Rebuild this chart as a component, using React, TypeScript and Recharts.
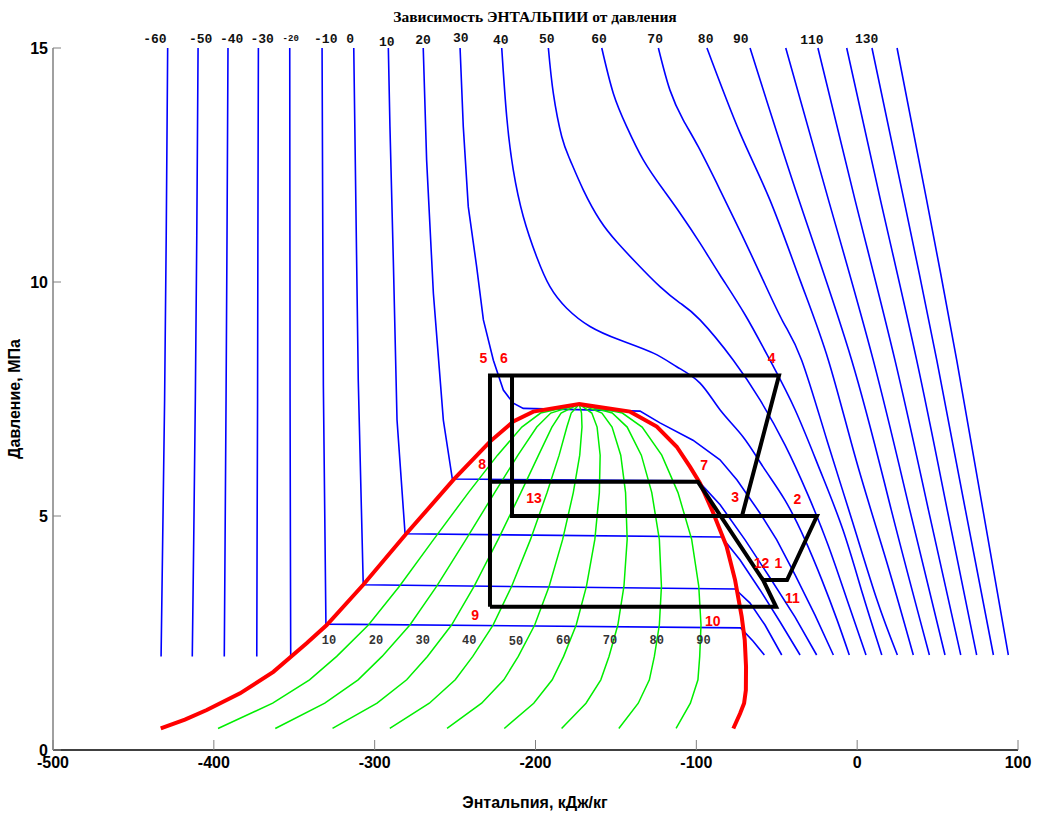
import React from 'react';
import { LineChart, Line, XAxis, YAxis, ReferenceDot } from 'recharts';

// isotherms: [enthalpy kJ/kg, pressure MPa]
const ISO_M60 = [[-428.7, 15], [-429.6, 11], [-430.6, 7.5], [-431.8, 4.5], [-432.8, 2.0]];
const ISO_M50 = [[-409.8, 15], [-410.6, 11], [-411.5, 7.5], [-412.5, 4.5], [-413.4, 2.0]];
const ISO_M40 = [[-391.2, 15], [-391.8, 11], [-392.4, 7.5], [-393.0, 4.5], [-393.5, 2.0]];
const ISO_M30 = [[-372.3, 15], [-372.6, 11], [-372.8, 7.5], [-373.1, 4.5], [-373.3, 2.0]];
const ISO_M20 = [[-352.8, 15], [-352.7, 11], [-352.6, 7.5], [-352.4, 4.5], [-352.2, 2.0]];
const ISO_M10 = [[-332.7, 15], [-331.9, 7.8], [-330.3, 2.69], [-72.5, 2.61], [-64.8, 2.33], [-57.7, 2.03]];
const ISO_0 = [[-313.0, 15], [-310.2, 7.9], [-307.1, 3.53], [-75.9, 3.44], [-66.6, 3.14], [-57.3, 2.67], [-46.9, 2.03]];
const ISO_10 = [[-291.5, 15], [-290.5, 13.32], [-288.4, 10.47], [-286.1, 7.05], [-281.1, 4.62], [-84.2, 4.55], [-72.8, 4.06], [-60.4, 3.42], [-48.0, 2.74], [-35.5, 2.03]];
const ISO_20 = [[-269.8, 15], [-267.7, 12.61], [-263.5, 9.76], [-257.3, 7.05], [-251.7, 5.79], [-98.9, 5.75], [-85.2, 5.24], [-69.7, 4.49], [-54.2, 3.68], [-38.6, 2.84], [-25.2, 2.03]];
const ISO_30 = [[-246.9, 15], [-244.9, 13.32], [-241.8, 11.61], [-236.6, 10.33], [-232.4, 9.19], [-226.2, 8.33], [-220.0, 7.69], [-213.8, 7.41], [-207.6, 7.3], [-135.0, 7.24], [-122.6, 6.99], [-102.1, 6.62], [-85.3, 6.2], [-74.7, 5.77], [-60.4, 5.06], [-50.0, 4.49], [-38.6, 3.74], [-26.2, 2.88], [-14.8, 2.03]];
const ISO_40 = [[-221.0, 15], [-217.9, 13.53], [-213.8, 12.39], [-207.6, 11.4], [-199.3, 10.54], [-191.0, 9.9], [-180.6, 9.44], [-166.1, 9.05], [-147.5, 8.76], [-126.7, 8.48], [-112.2, 8.19], [-97.7, 7.84], [-85.3, 7.27], [-70.9, 6.69], [-58.5, 6.05], [-44.9, 5.34], [-32.4, 4.49], [-21.9, 3.63], [-12.5, 2.78], [-4.9, 2.03]];
const ISO_50 = [[-192.0, 15], [-188.9, 14.03], [-183.7, 13.11], [-178.5, 12.61], [-170.3, 11.97], [-159.9, 11.32], [-149.5, 10.86], [-137.1, 10.4], [-122.6, 9.9], [-110.1, 9.55], [-97.7, 9.19], [-77.0, 8.33], [-60.4, 7.48], [-44.9, 6.52], [-30.6, 5.45], [-18.1, 4.38], [-6.3, 3.21], [5.5, 2.03]];
const ISO_60 = [[-158.8, 15], [-151.6, 14.03], [-143.3, 13.32], [-133.0, 12.61], [-120.5, 11.97], [-110.1, 11.47], [-97.7, 10.83], [-85.3, 10.15], [-69.7, 9.3], [-54.2, 8.33], [-38.6, 7.27], [-23.1, 5.98], [-8.8, 4.7], [3.6, 3.31], [15.3, 2.03]];
const ISO_70 = [[-123.6, 15], [-116.4, 14.1], [-108.1, 13.46], [-98.8, 12.89], [-85.3, 11.97], [-71.6, 11.0], [-58.5, 10.04], [-46.1, 9.15], [-34.5, 8.33], [-18.8, 6.62], [-3.2, 4.91], [12.3, 3.21], [25.0, 2.03]];
const ISO_80 = [[-93.4, 15], [-72.8, 13.18], [-54.2, 11.75], [-35.5, 10.04], [-17.9, 8.33], [-0.7, 6.2], [18.0, 4.06], [34.9, 2.03]];
const ISO_90 = [[-66.6, 15], [-36.2, 11.75], [-3.4, 8.33], [21.2, 5.13], [44.9, 2.03]];
const ISO_100 = [[-44.4, 15], [-17.8, 11.75], [10.0, 8.33], [32.7, 5.13], [54.6, 2.03]];
const ISO_110 = [[-24.4, 15], [-1.3, 11.75], [23.5, 8.33], [44.3, 5.13], [64.4, 2.03]];
const ISO_120 = [[-6.5, 15], [14.5, 11.75], [37.0, 8.33], [56.0, 5.13], [74.3, 2.03]];
const ISO_130 = [[9.2, 15], [29.1, 11.75], [49.5, 8.33], [67.3, 5.13], [84.7, 2.03]];
const ISO_140 = [[24.8, 15], [43.2, 11.75], [61.9, 8.33], [78.2, 5.13], [94.0, 2.03]];

// lines with a flat two-phase part keep sharp corners
const ISO_SHARP = [ISO_M60, ISO_M50, ISO_M40, ISO_M30, ISO_M20, ISO_M10, ISO_0, ISO_10, ISO_20, ISO_30];
const ISO_SMOOTH = [ISO_40, ISO_50, ISO_60, ISO_70, ISO_80, ISO_90, ISO_100, ISO_110, ISO_120, ISO_130, ISO_140];

// saturation dome (liquid side -> critical point -> vapour side)
const SATURATION = [
  [-433.0, 0.46], [-418.0, 0.65], [-404.4, 0.855], [-383.7, 1.21], [-363.0, 1.67], [-342.3, 2.28],
  [-329.8, 2.67], [-307.1, 3.53], [-280.1, 4.63], [-251.1, 5.77], [-228.3, 6.59], [-213.8, 7.02],
  [-201.4, 7.23], [-172.8, 7.39], [-141.2, 7.23], [-124.6, 6.91], [-112.2, 6.48], [-103.9, 6.05],
  [-97.7, 5.7], [-89.4, 5.06], [-81.1, 4.34], [-75.9, 3.63], [-71.8, 2.85], [-69.9, 2.35],
  [-69.1, 1.78], [-69.2, 1.28], [-70.3, 1.0], [-72.8, 0.78], [-77.0, 0.46],
];

// dryness lines 10..90 %
const QUALITY_P = [0.46, 1.0, 1.5, 2.0, 2.67, 3.5, 4.5, 5.5, 6.3, 6.9, 7.2, 7.39];
const Q10_H = [-397.4, -363.4, -340.5, -323.6, -303.9, -284.6, -263.3, -241.7, -223.6, -208.5, -196.8, -172.8];
const Q20_H = [-361.8, -331.0, -310.3, -295.4, -278.1, -261.4, -243.2, -225.4, -210.9, -199.2, -190.5, -172.8];
const Q30_H = [-326.2, -298.5, -280.1, -267.2, -252.2, -238.1, -223.2, -209.1, -198.1, -189.8, -184.1, -172.8];
const Q40_H = [-290.6, -266.0, -249.9, -239.0, -226.4, -214.8, -203.1, -192.8, -185.3, -180.5, -177.8, -172.8];
const Q50_H = [-255.0, -233.5, -219.7, -210.7, -200.5, -191.5, -183.1, -176.5, -172.5, -171.1, -171.4, -172.8];
const Q60_H = [-219.4, -201.1, -189.6, -182.5, -174.7, -168.3, -163.1, -160.3, -159.8, -161.7, -165.0, -172.8];
const Q70_H = [-183.8, -168.6, -159.4, -154.3, -148.8, -145.0, -143.0, -144.0, -147.0, -152.4, -158.7, -172.8];
const Q80_H = [-148.2, -136.1, -129.2, -126.1, -123.0, -121.7, -123.0, -127.7, -134.2, -143.0, -152.3, -172.8];
const Q90_H = [-112.6, -103.7, -99.0, -97.9, -97.1, -98.5, -102.9, -111.4, -121.5, -133.7, -146.0, -172.8];
const QUALITY_H = [Q10_H, Q20_H, Q30_H, Q40_H, Q50_H, Q60_H, Q70_H, Q80_H, Q90_H];

// cycle
const CYCLE_A = [[-228.3, 3.06], [-228.3, 8.0], [-48.6, 8.0], [-71.6, 5.0]];
const CYCLE_B = [[-214.6, 8.0], [-214.6, 5.0], [-25.0, 5.0], [-43.6, 3.63], [-58.5, 3.63]];
const CYCLE_C = [[-228.3, 5.73], [-99.0, 5.73], [-58.5, 3.63], [-50.4, 3.06], [-228.3, 3.06]];

// labels
const TEMP_LABELS = [
  ['-60', -436.6, 15.19], ['-50', -408.2, 15.19], ['-40', -388.9, 15.19], ['-30', -370.0, 15.19],
  ['-20', -352.2, 15.19], ['-10', -330.4, 15.19], ['0', -315.3, 15.19], ['10', -292.5, 15.12],
  ['20', -269.9, 15.17], ['30', -246.5, 15.21], ['40', -221.6, 15.17], ['50', -193.0, 15.19],
  ['60', -160.5, 15.19], ['70', -125.6, 15.19], ['80', -94.2, 15.19], ['90', -72.4, 15.19],
  ['110', -28.1, 15.16], ['130', 5.9, 15.19],
];
const QUALITY_LABELS = [
  ['10', -328.4, 2.33], ['20', -299.2, 2.33], ['30', -270.1, 2.33], ['40', -241.2, 2.33],
  ['50', -212.1, 2.3], ['60', -182.7, 2.33], ['70', -153.7, 2.33], ['80', -124.6, 2.33], ['90', -95.6, 2.33],
];
const POINT_LABELS = [
  ['5', -232.4, 8.38], ['6', -219.6, 8.38], ['4', -53.1, 8.37], ['8', -233.1, 6.11],
  ['7', -95.2, 6.09], ['13', -200.9, 5.38], ['3', -75.9, 5.4], ['2', -37.2, 5.36],
  ['12', -59.4, 4.0], ['1', -49.0, 4.0], ['11', -40.3, 3.24], ['9', -237.6, 2.88], ['10', -89.8, 2.76],
];

const X_TICKS = [-500, -400, -300, -200, -100, 0, 100];
const Y_TICKS = [0, 5, 10, 15];

const pts = (arr) => arr.map(([x, y]) => ({ x, y }));
const SANS = '"Liberation Sans", Arial, sans-serif';
const MONO = '"Liberation Mono", "Courier New", monospace';

const XTick = ({ x, y, payload }) => (
  <g>
    <line x1={x} x2={x} y1={y} y2={y - 10} stroke="#808080" />
    <text x={x} y={y + 18} textAnchor="middle" fontFamily={SANS} fontWeight="bold" fontSize={16} fill="#000">
      {payload.value}
    </text>
  </g>
);

const YTick = ({ x, y, payload }) => (
  <g>
    <line x1={x} x2={x + 8} y1={y} y2={y} stroke="#808080" />
    <text x={x - 5} y={y + 6} textAnchor="end" fontFamily={SANS} fontWeight="bold" fontSize={16} fill="#000">
      {payload.value}
    </text>
  </g>
);

const textShape = (label, style) => (p) => (
  <text x={p.cx} y={p.cy} textAnchor="middle" dominantBaseline="central" {...style}>
    {label}
  </text>
);

const labelStyle = {
  position: 'absolute', whiteSpace: 'nowrap', fontFamily: SANS, fontWeight: 'bold', fontSize: 16,
} as const;

export default function App() {
  return (
    <div style={{ position: 'relative', width: 1041, height: 814, overflow: 'hidden' }}>
      <style>{'html,body{margin:0;padding:0;overflow:hidden}'}</style>
      <LineChart width={1041} height={814} margin={{ top: 48, right: 23, bottom: 34, left: 0 }}>
        <XAxis type="number" dataKey="x" domain={[-500, 100]} ticks={X_TICKS} height={30}
          tickSize={0} tickMargin={0} tick={XTick} axisLine={{ stroke: '#000', strokeWidth: 1.5 }} tickLine={false} />
        <YAxis type="number" dataKey="y" domain={[0, 15]} ticks={Y_TICKS} width={53}
          tickSize={0} tickMargin={0} tick={YTick} axisLine={{ stroke: '#808080', strokeWidth: 1.5 }} tickLine={false} />
        {ISO_SHARP.map((s, i) => (
          <Line key={'iso' + i} data={pts(s)} dataKey="y" type="linear" stroke="#0000ff" strokeWidth={1.6}
            dot={false} activeDot={false} isAnimationActive={false} />
        ))}
        {ISO_SMOOTH.map((s, i) => (
          <Line key={'isos' + i} data={pts(s)} dataKey="y" type="natural" stroke="#0000ff" strokeWidth={1.6}
            dot={false} activeDot={false} isAnimationActive={false} />
        ))}
        {QUALITY_H.map((hs, i) => (
          <Line key={'q' + i} data={hs.map((h, j) => ({ x: h, y: QUALITY_P[j] }))} dataKey="y" type="linear"
            stroke="#00ee00" strokeWidth={1.5} dot={false} activeDot={false} isAnimationActive={false} />
        ))}
        <Line data={pts(SATURATION)} dataKey="y" type="linear" stroke="#ff0000" strokeWidth={4}
          dot={false} activeDot={false} isAnimationActive={false} />
        {[CYCLE_A, CYCLE_B, CYCLE_C].map((s, i) => (
          <Line key={'c' + i} data={pts(s)} dataKey="y" type="linear" stroke="#000" strokeWidth={4}
            dot={false} activeDot={false} isAnimationActive={false} />
        ))}
        {TEMP_LABELS.map(([t, h, p]) => (
          <ReferenceDot key={'t' + t} x={h} y={p} r={0} ifOverflow="visible"
            shape={textShape(t, { fontFamily: MONO, fontWeight: 'bold', fontSize: t === '-20' ? 9 : 13, fill: '#111' })} />
        ))}
        {QUALITY_LABELS.map(([t, h, p]) => (
          <ReferenceDot key={'ql' + t} x={h} y={p} r={0} ifOverflow="visible"
            shape={textShape(t, { fontFamily: MONO, fontWeight: 'bold', fontSize: 12, fill: '#333' })} />
        ))}
        {POINT_LABELS.map(([t, h, p]) => (
          <ReferenceDot key={'pl' + t + h} x={h} y={p} r={0} ifOverflow="visible"
            shape={textShape(t, { fontFamily: SANS, fontWeight: 'bold', fontSize: 14, fill: '#ff0000' })} />
        ))}
      </LineChart>
      <div style={{ ...labelStyle, left: 535, top: 17, transform: 'translate(-50%, -50%)',
        fontFamily: '"Liberation Serif", "Times New Roman", serif', fontSize: 15.5 }}>
        Зависимость ЭНТАЛЬПИИ от давления
      </div>
      <div style={{ ...labelStyle, left: 15, top: 399, transform: 'translate(-50%, -50%) rotate(-90deg)' }}>
        Давление, МПа
      </div>
      <div style={{ ...labelStyle, left: 535, top: 803, transform: 'translate(-50%, -50%)' }}>
        Энтальпия, кДж/кг
      </div>
    </div>
  );
}
